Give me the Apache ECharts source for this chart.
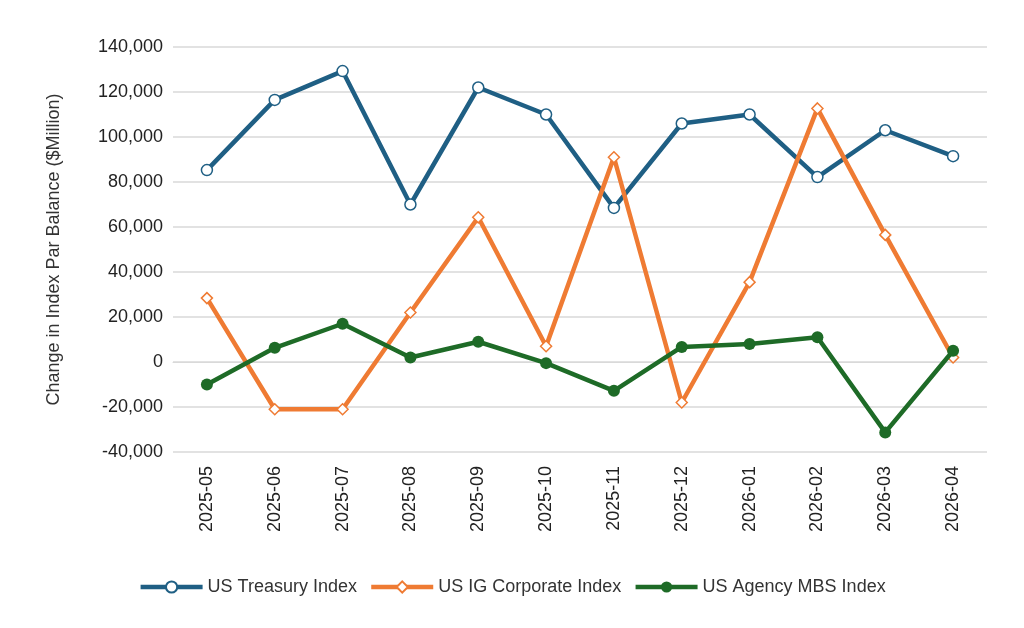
<!DOCTYPE html>
<html>
<head>
<meta charset="utf-8">
<script src="https://cdn.jsdelivr.net/npm/echarts@6/dist/echarts.min.js"></script>
<style>html,body{margin:0;background:#fff}#c{width:1024px;height:628px}</style>
</head>
<body>
<div id="c"></div>
<script>
var months = ['2025-05','2025-06','2025-07','2025-08','2025-09','2025-10','2025-11','2025-12','2026-01','2026-02','2026-03','2026-04'];
var treasury = [85300, 116500, 129300, 70000, 122000, 110000, 68500, 106000, 110000, 82200, 103000, 91500];
var igCorp = [28400, -21000, -21000, 22000, 64300, 7000, 91000, -18000, 35500, 112700, 56500, 2000];
var agencyMbs = [-10000, 6300, 17000, 2000, 9000, -500, -12800, 6700, 8000, 11000, -31300, 5000];

var myChart = echarts.init(document.getElementById('c'));
var font = 'Liberation Sans, Arial, sans-serif';
var option = {
  animation: false,
  textStyle: { fontFamily: font },
  grid: { left: 173, right: 37, top: 47, bottom: 176 },
  legend: {
    bottom: 27, itemWidth: 62, itemHeight: 14, itemGap: 12,
    textStyle: { fontSize: 18, color: '#333', fontFamily: font },
    lineStyle: { width: 4.5 },
    data: ['US Treasury Index', 'US IG Corporate Index', 'US Agency MBS Index']
  },
  xAxis: {
    type: 'category', data: months,
    axisLine: { lineStyle: { color: '#d9d9d9' } },
    axisTick: { show: false },
    axisLabel: { rotate: 90, fontSize: 18, color: '#222', margin: 14 }
  },
  yAxis: {
    type: 'value', min: -40000, max: 140000, interval: 20000,
    name: 'Change in Index Par Balance ($Million)', nameLocation: 'middle', nameGap: 110,
    nameTextStyle: { fontSize: 18, color: '#333' },
    axisLabel: { fontSize: 18, color: '#222', margin: 10, formatter: function (v) { return v.toLocaleString('en-US'); } },
    splitLine: { lineStyle: { color: '#d9d9d9', width: 1.5 } }
  },
  series: [
    { name: 'US Treasury Index', type: 'line', data: treasury, symbol: 'circle', symbolSize: 11,
      lineStyle: { color: '#1f5f84', width: 4.5 }, itemStyle: { color: '#fff', borderColor: '#1f5f84', borderWidth: 1.5 }, z: 3 },
    { name: 'US IG Corporate Index', type: 'line', data: igCorp, symbol: 'diamond', symbolSize: 11,
      lineStyle: { color: '#ef7b33', width: 4.5 }, itemStyle: { color: '#fff', borderColor: '#ef7b33', borderWidth: 1.5 }, z: 4 },
    { name: 'US Agency MBS Index', type: 'line', data: agencyMbs, symbol: 'circle', symbolSize: 12,
      lineStyle: { color: '#1e6b27', width: 4.5 }, itemStyle: { color: '#1e6b27' }, z: 5 }
  ]
};
myChart.setOption(option);
</script>
</body>
</html>
